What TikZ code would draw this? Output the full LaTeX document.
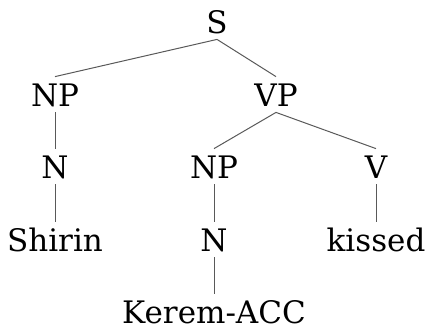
\documentclass[tikz,border=0pt]{standalone}
\usepackage{fontspec}
\setmainfont{DejaVu Serif}
\usepackage{tikz}
\usetikzlibrary{positioning}

\begin{document}
\begin{tikzpicture}[x=0.5pt,y=-0.5pt,
  cat/.style={anchor=base,inner xsep=0pt,inner ysep=3pt,text height=11.5pt,text depth=0pt,font=\fontsize{15.5pt}{19pt}\selectfont},
  branch/.style={draw=black!65,line width=0.5pt}]
\useasboundingbox (0,0) rectangle (426,329);
% levels
\node[cat] (S)    at (217,33)  {S};
\node[cat] (NPs)  at (55,106)  {NP};
\node[cat] (VP)   at (276,106) {VP};
\node[cat] (Ns)   at (55,178)  {N};
\node[cat] (NPo)  at (214,178) {NP};
\node[cat] (V)    at (376,178) {V};
\node[cat] (Shirin) at (55,251) {Shirin};
\node[cat] (No)   at (214,251) {N};
\node[cat] (kissed) at (376,251) {kissed};
\node[cat] (Kerem) at (214,323) {Kerem-ACC};
% branches
\draw[branch] (S.south)--(NPs.north);
\draw[branch] (S.south)--(VP.north);
\draw[branch] (NPs.south)--(Ns.north);
\draw[branch] (VP.south)--(NPo.north);
\draw[branch] (VP.south)--(V.north);
\draw[branch] (Ns.south)--(Shirin.north);
\draw[branch] (NPo.south)--(No.north);
\draw[branch] (V.south)--(kissed.north);
\draw[branch] (No.south)--(Kerem.north);
\end{tikzpicture}
\end{document}
